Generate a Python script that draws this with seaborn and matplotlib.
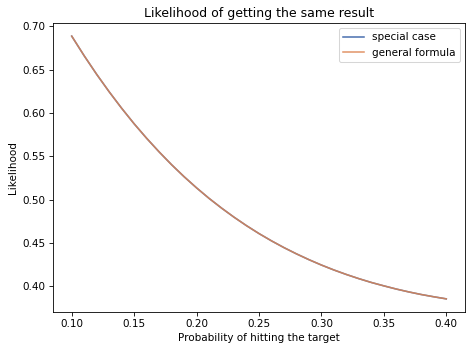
import numpy as np
import pandas as pd
import matplotlib
matplotlib.use('Agg')
import matplotlib.pyplot as plt
import seaborn as sns

# 击中概率 p
p_values = [0.10, 0.11, 0.12, 0.13, 0.14, 0.15, 0.16, 0.17, 0.18, 0.19, 0.20,
            0.21, 0.22, 0.23, 0.24, 0.25, 0.26, 0.27, 0.28, 0.29, 0.30,
            0.31, 0.32, 0.33, 0.34, 0.35, 0.36, 0.37, 0.38, 0.39, 0.40]
special_case = [0.6886, 0.6659, 0.6445, 0.6244, 0.6054, 0.5875, 0.5708, 0.5551,
                0.5403, 0.5265, 0.5136, 0.5015, 0.4903, 0.4798, 0.4700, 0.4609,
                0.4525, 0.4447, 0.4375, 0.4308, 0.4246, 0.4189, 0.4137, 0.4089,
                0.4045, 0.4006, 0.3969, 0.3936, 0.3906, 0.3880, 0.3856]
general_formula = list(special_case)

deep = sns.color_palette('deep')

DPI = 75
W, H = 472, 352
fig, ax = plt.subplots(figsize=(W / DPI, H / DPI), dpi=DPI)
sns.lineplot(x=p_values, y=special_case, ax=ax, color=deep[0],
             label='special case')
sns.lineplot(x=p_values, y=general_formula, ax=ax, color=deep[1], alpha=0.85,
             label='general formula')
ax.set_title('Likelihood of getting the same result')
ax.set_xlabel('Probability of hitting the target')
ax.set_ylabel('Likelihood')
ax.legend(loc='upper right')
fig.subplots_adjust(left=53 / W, right=465 / W, top=1 - 23 / H, bottom=1 - 312 / H)
fig.savefig('out.png', dpi=DPI)
